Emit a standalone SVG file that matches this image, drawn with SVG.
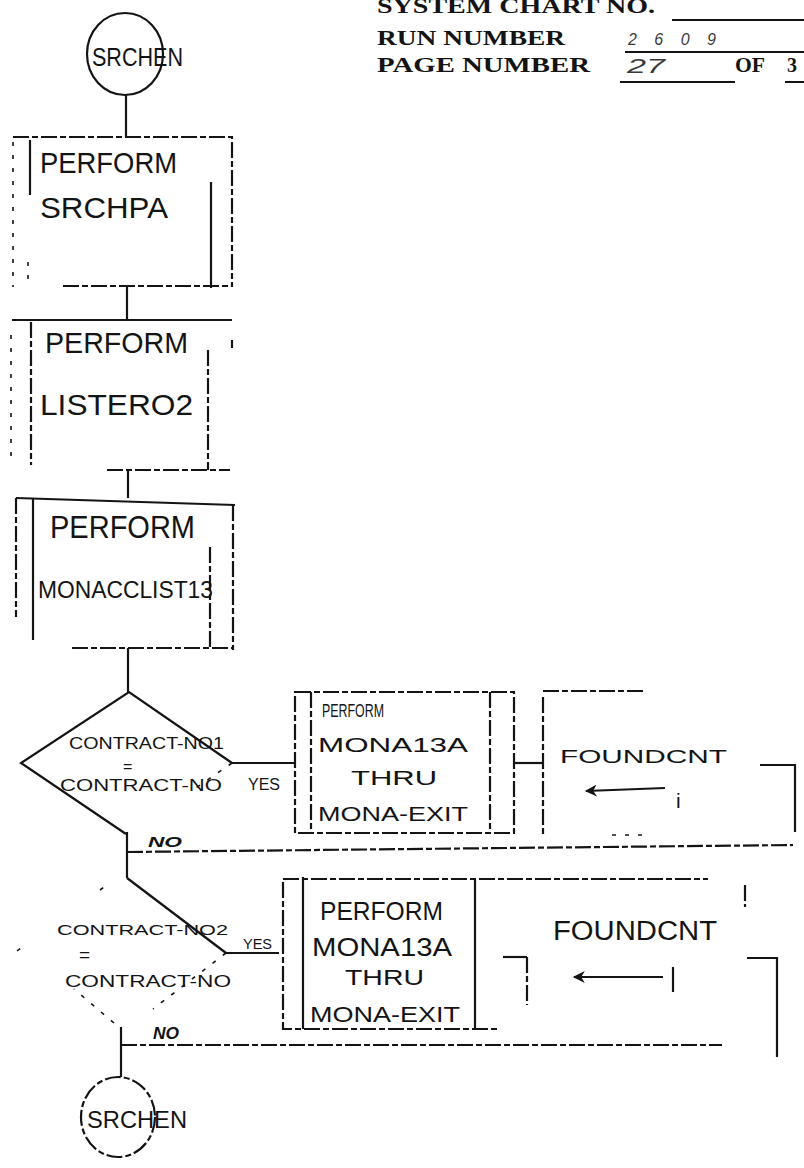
<svg xmlns="http://www.w3.org/2000/svg" width="804" height="1168" viewBox="0 0 804 1168">
<style>
.ln{fill:none;stroke:#141414;stroke-width:2.2;stroke-linecap:butt}
.dsh{stroke-dasharray:16 3 6 3}
.ft{stroke-dasharray:4 9;stroke-width:1.6}
.hd{font-family:"Liberation Serif",serif;font-weight:bold;font-size:20px;fill:#141414}
.hw{font-family:"Liberation Sans","DejaVu Sans",sans-serif;fill:#141414}
.hn{font-family:"Liberation Sans","DejaVu Sans",sans-serif;font-style:italic;fill:#3a3a3a}
</style>
<defs>
<marker id="ah" viewBox="0 0 10 10" refX="9" refY="5" markerWidth="14" markerHeight="12" markerUnits="userSpaceOnUse" orient="auto">
<path d="M0,0 L10,5 L0,10 L3,5 Z" fill="#141414"/>
</marker>
</defs>
<rect width="804" height="1168" fill="#fff"/>

<g id="header">
<text class="hd" x="377" y="13" textLength="278" lengthAdjust="spacingAndGlyphs">SYSTEM CHART NO.</text>
<text class="hd" x="377" y="45" textLength="188" lengthAdjust="spacingAndGlyphs">RUN NUMBER</text>
<text class="hd" x="377" y="72" textLength="213" lengthAdjust="spacingAndGlyphs">PAGE NUMBER</text>
<text class="hd" x="735" y="72" textLength="30" lengthAdjust="spacingAndGlyphs">OF</text>
<text class="hd" x="787" y="72">3</text>
<text class="hn" x="628" y="45" font-size="16" textLength="88" lengthAdjust="spacing">2609</text>
<text class="hn" x="627" y="73" font-size="21" textLength="38" lengthAdjust="spacingAndGlyphs">27</text>
<path class="ln" d="M672,20 H804 M625,52 H804 M620,82 H735 M785,82 H804"/>
</g>

<g id="start">
<ellipse class="ln" cx="125" cy="54" rx="38" ry="41"/>
<text class="hw" x="92" y="66" font-size="25" textLength="91" lengthAdjust="spacingAndGlyphs">SRCHEN</text>
</g>

<g id="perform-srchpa">
<path class="ln dsh" d="M13,137 H232 V287"/>
<path class="ln ft" d="M13,142 V287"/>
<path class="ln" d="M30,140 V195"/>
<path class="ln ft" d="M28,262 V286"/>
<path class="ln" d="M211,182 V288"/>
<path class="ln dsh" d="M63,286 H232"/>
<text class="hw" x="40" y="173" font-size="30" textLength="137" lengthAdjust="spacingAndGlyphs">PERFORM</text>
<text class="hw" x="40" y="218" font-size="30" textLength="128" lengthAdjust="spacingAndGlyphs">SRCHPA</text>
</g>

<g id="perform-listero2">
<path class="ln" d="M12,320 H232"/>
<path class="ln ft" d="M11,335 V465"/>
<path class="ln dsh" d="M31,322 V465"/>
<path class="ln dsh" d="M208,350 V470"/>
<path class="ln" d="M232,340 V348"/>
<path class="ln dsh" d="M107,470 H230"/>
<text class="hw" x="45" y="353" font-size="30" textLength="143" lengthAdjust="spacingAndGlyphs">PERFORM</text>
<text class="hw" x="40" y="415" font-size="30" textLength="153" lengthAdjust="spacingAndGlyphs">LISTERO2</text>
</g>

<g id="perform-monacclist13">
<path class="ln" d="M16,498 L235,505"/>
<path class="ln dsh" d="M16,498 V617"/>
<path class="ln" d="M33,498 V640"/>
<path class="ln dsh" d="M233,505 V650"/>
<path class="ln dsh" d="M210,547 V650"/>
<path class="ln dsh" d="M72,648 H233"/>
<text class="hw" x="50" y="538" font-size="31" textLength="145" lengthAdjust="spacingAndGlyphs">PERFORM</text>
<text class="hw" x="38" y="598" font-size="23" textLength="175" lengthAdjust="spacingAndGlyphs">MONACCLIST13</text>
</g>

<g id="decision-1">
<path class="ln" d="M232,763 L129,692 L21,763 L126,834"/>
<path class="ln ft" d="M232,763 L190,792"/>
<text class="hw" x="69" y="749" font-size="17" textLength="155" lengthAdjust="spacingAndGlyphs">CONTRACT-NO1</text>
<text class="hw" x="123" y="772" font-size="16">=</text>
<text class="hw" x="60" y="791" font-size="17" textLength="162" lengthAdjust="spacingAndGlyphs">CONTRACT-NO</text>
</g>

<g id="perform-mona13a-1">
<path class="ln dsh" d="M295,692 H514 V833 H295 Z"/>
<path class="ln dsh" d="M311,692 V833 M490,692 V833"/>
<text class="hw" x="322" y="717" font-size="19" textLength="62" lengthAdjust="spacingAndGlyphs">PERFORM</text>
<text class="hw" x="318" y="752" font-size="21" textLength="150" lengthAdjust="spacingAndGlyphs">MONA13A</text>
<text class="hw" x="351" y="785" font-size="21" textLength="86" lengthAdjust="spacingAndGlyphs">THRU</text>
<text class="hw" x="318" y="821" font-size="20" textLength="150" lengthAdjust="spacingAndGlyphs">MONA-EXIT</text>
</g>

<g id="foundcnt-1">
<path class="ln dsh" d="M543,691 H643"/>
<path class="ln dsh" d="M543,697 V835"/>
<path class="ln" d="M760,765 H795 V832"/>
<path class="ln ft" d="M612,835 H650"/>
<text class="hw" x="560" y="763" font-size="19" textLength="167" lengthAdjust="spacingAndGlyphs">FOUNDCNT</text>
<path class="ln" d="M665,788 L586,791" marker-end="url(#ah)"/>
<text class="hw" x="676" y="808" font-size="21">i</text>
</g>

<g id="decision-2">
<path class="ln" d="M127,878 L226,953"/>
<path class="ln ft" d="M226,953 L153,1009 M114,1023 L74,989 M100,890 L108,884 M17,951 L22,947"/>
<text class="hw" x="57" y="935" font-size="15" textLength="171" lengthAdjust="spacingAndGlyphs">CONTRACT-NO2</text>
<text class="hw" x="79" y="961" font-size="19">=</text>
<text class="hw" x="65" y="987" font-size="17" textLength="166" lengthAdjust="spacingAndGlyphs">CONTRACT-NO</text>
</g>

<g id="perform-mona13a-2">
<path class="ln dsh" d="M283,879 H708"/>
<path class="ln dsh" d="M283,882 V1029 H500"/>
<path class="ln" d="M303,877 V1029 M475,880 V1029"/>
<text class="hw" x="320" y="920" font-size="26" textLength="123" lengthAdjust="spacingAndGlyphs">PERFORM</text>
<text class="hw" x="312" y="956" font-size="25" textLength="140" lengthAdjust="spacingAndGlyphs">MONA13A</text>
<text class="hw" x="345" y="985" font-size="22" textLength="79" lengthAdjust="spacingAndGlyphs">THRU</text>
<text class="hw" x="310" y="1022" font-size="22" textLength="150" lengthAdjust="spacingAndGlyphs">MONA-EXIT</text>
</g>

<g id="foundcnt-2">
<path class="ln dsh" d="M527,957 V1005"/>
<path class="ln dsh" d="M745,885 V907"/>
<path class="ln" d="M747,958 H777 V1057"/>
<text class="hw" x="553" y="940" font-size="27" textLength="164" lengthAdjust="spacingAndGlyphs">FOUNDCNT</text>
<path class="ln" d="M663,977 H574" marker-end="url(#ah)"/>
<path class="ln" d="M673,967 V992" stroke-width="3"/>
</g>

<g id="end">
<ellipse class="ln dsh" cx="118" cy="1117" rx="37" ry="40"/>
<text class="hw" x="87" y="1128" font-size="24" textLength="100" lengthAdjust="spacingAndGlyphs">SRCHEN</text>
</g>

<g id="connectors">
<path class="ln" d="M126,95 V137"/>
<path class="ln" d="M127,287 V320"/>
<path class="ln" d="M128,470 V498"/>
<path class="ln" d="M128,648 V692"/>
<path class="ln" d="M232,763 H295"/>
<path class="ln" d="M514,763 H543"/>
<path class="ln" d="M127,832 V878"/>
<path class="ln dsh" d="M127,852 L793,845"/>
<path class="ln" d="M226,953 H279"/>
<path class="ln" d="M503,957 H527"/>
<path class="ln" d="M121,1027 V1077"/>
<path class="ln dsh" d="M121,1045 H722"/>
<text class="hw" x="248" y="790" font-size="16" textLength="32" lengthAdjust="spacingAndGlyphs">YES</text>
<text class="hw" x="148" y="847" font-size="15" font-style="italic" font-weight="bold" textLength="34" lengthAdjust="spacingAndGlyphs">NO</text>
<text class="hw" x="243" y="949" font-size="15" textLength="29" lengthAdjust="spacingAndGlyphs">YES</text>
<text class="hw" x="153" y="1039" font-size="16" font-style="italic" font-weight="bold" textLength="26" lengthAdjust="spacingAndGlyphs">NO</text>
</g>
</svg>
